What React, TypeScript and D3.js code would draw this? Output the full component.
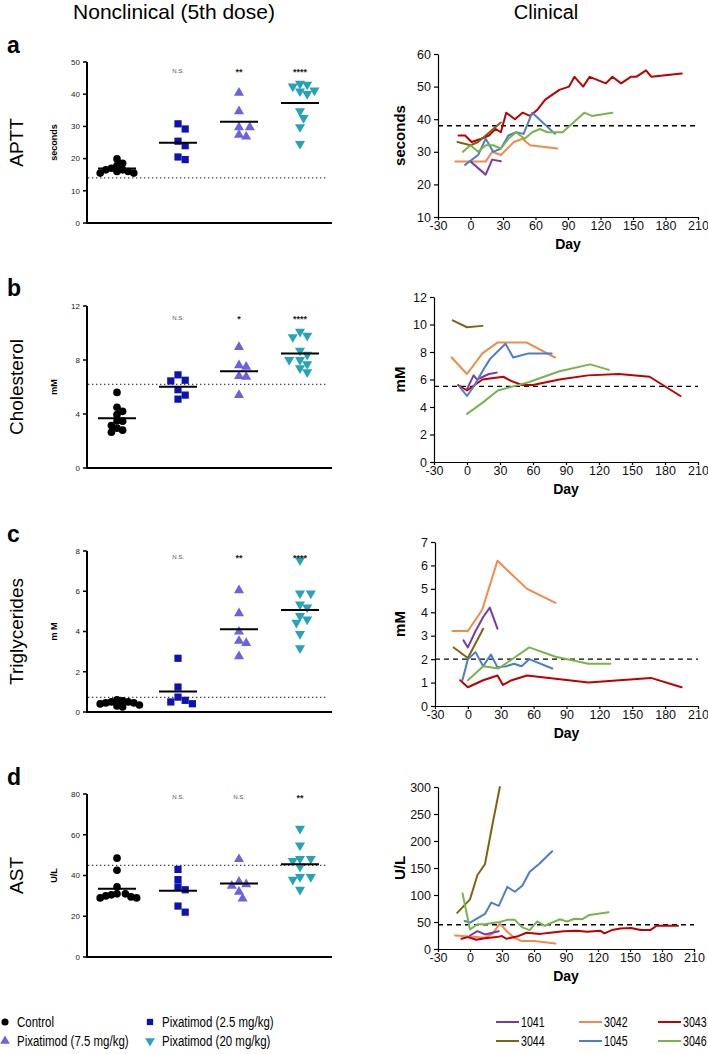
import React, { useEffect, useRef } from 'react';
import * as d3 from 'd3';

// ---------- nonclinical, 5th dose: one value per animal ----------
const groupNames = ['Control', 'Pixatimod (2.5 mg/kg)', 'Pixatimod (7.5 mg/kg)', 'Pixatimod (20 mg/kg)'];

const apttControl = [19.9, 18.5, 17.8, 17, 16.5, 16.5, 16, 16, 15.5, 15.5];
const aptt25 = [30.8, 29.2, 25.4, 24.0, 20.5, 19.7];
const aptt75 = [40.4, 34.7, 29.7, 29.7, 27.4, 26.8];
const aptt20 = [43.3, 43, 42.4, 41.2, 40.9, 40.1, 34.7, 32.6, 29.8, 24.6];

const cholControl = [5.6, 4.5, 4.2, 3.95, 3.5, 3.47, 3.15, 2.95, 2.8, 2.65];
const chol25 = [6.9, 6.5, 6.45, 5.8, 5.4, 5.1];
const chol75 = [8.95, 7.6, 7.5, 6.8, 6.75, 5.4];
const chol20 = [10.1, 9.8, 9.7, 8.7, 8.4, 8.0, 8.0, 7.7, 7.4, 7.1];

const tgControl = [0.6, 0.55, 0.5, 0.5, 0.45, 0.45, 0.4, 0.35, 0.3, 0.25];
const tg25 = [2.67, 1.24, 0.74, 0.58, 0.5, 0.41];
const tg75 = [6.05, 4.9, 3.99, 3.53, 3.42, 2.77];
const tg20 = [7.54, 5.89, 5.89, 5.35, 5.2, 4.77, 4.6, 4.44, 3.88, 3.17];

const astControl = [48.5, 42.6, 34.4, 31, 31, 30.5, 30, 29.5, 29, 29];
const ast25 = [43, 38, 34.4, 33, 25, 22];
const ast75 = [48, 36.9, 35.7, 34.9, 32, 28.7];
const ast20 = [63, 54.8, 48.2, 48.2, 47.2, 44.3, 39.3, 39.3, 38, 33];

// significance vs control, groups 2..4
const apttSig = ['N.S.', '**', '****'];
const cholSig = ['N.S.', '*', '****'];
const tgSig = ['N.S.', '**', '****'];
const astSig = ['N.S.', 'N.S.', '**'];

// upper limit of normal (dotted / dashed lines)
const nonclinRefs = [14, 6.2, 0.73, 45];
const clinRefs = [38, 5.5, 2, 45];

// ---------- clinical: [day, value] per patient ----------
const patientIds = ['1041', '3042', '3043', '3044', '1045', '3046'];
const dayTicks = [-30, 0, 30, 60, 90, 120, 150, 180, 210];

const aptt1041 = [[0, 27], [14, 23], [20, 27.6], [28, 27.1]];
const aptt3042 = [[-14, 27], [0, 27], [14, 27], [20, 30], [28, 29], [40, 33], [48, 34], [55, 32], [80, 31]];
const aptt3043 = [[-11, 35], [-5, 35], [1, 33], [10, 34], [17, 35], [23, 37], [28, 36], [33, 42], [41, 40], [48, 42], [55, 41], [62, 43], [69, 46], [82, 49], [91, 50], [96, 53], [104, 50], [110, 53], [125, 51], [131, 53], [139, 51], [148, 53], [153, 53], [162, 55], [167, 53], [195, 54]];
const aptt3044 = [[-12, 33], [0, 32], [7, 33], [14, 35], [21, 37], [28, 39]];
const aptt1045 = [[-5, 26], [7, 29], [14, 34], [21, 30], [28, 31], [35, 35], [42, 36], [49, 35.5], [57, 42], [78, 35.5]];
const aptt3046 = [[-7, 30], [0, 32], [7, 30], [14, 32], [21, 32], [28, 31], [35, 34], [42, 36], [50, 34], [57, 36], [64, 37], [71, 36], [85, 36], [105, 42], [112, 41], [131, 42]];

const chol1041 = [[0, 5.3], [6, 6.3], [9, 6.0], [20, 6.4], [27, 6.5]];
const chol3042 = [[-14, 7.6], [0, 6.4], [14, 7.9], [28, 8.7], [54, 8.7], [80, 7.6]];
const chol3043 = [[-8, 5.6], [0, 5.2], [7, 5.6], [14, 6.0], [33, 6.2], [40, 5.9], [50, 5.6], [60, 5.6], [84, 6.0], [110, 6.3], [138, 6.4], [166, 6.2], [194, 4.8]];
const chol3044 = [[-13, 10.3], [0, 9.8], [14, 9.9]];
const chol1045 = [[-7, 5.5], [0, 4.8], [7, 5.6], [14, 6.6], [21, 7.5], [35, 8.6], [42, 7.6], [56, 7.9], [77, 7.9]];
const chol3046 = [[0, 3.5], [14, 4.3], [28, 5.2], [42, 5.5], [56, 5.8], [84, 6.6], [112, 7.1], [129, 6.7]];

const tg1041 = [[-4, 2.8], [0, 2.5], [7, 3.2], [14, 3.8], [20, 4.2], [27, 3.3]];
const tg3042 = [[-14, 3.2], [0, 3.2], [13, 4.1], [27, 6.2], [54, 5.0], [80, 4.4]];
const tg3043 = [[-7, 1.1], [0, 0.8], [14, 1.1], [27, 1.3], [32, 0.9], [40, 1.1], [54, 1.3], [110, 1.0], [167, 1.2], [195, 0.8]];
const tg3044 = [[-13, 2.5], [0, 2.05], [14, 3.3]];
const tg1045 = [[-5, 1.1], [0, 2.0], [7, 2.3], [14, 1.7], [21, 2.2], [27, 1.65], [35, 1.7], [42, 1.8], [49, 1.7], [56, 2.0], [77, 1.6]];
const tg3046 = [[0, 1.1], [14, 1.7], [28, 1.6], [42, 2.05], [56, 2.5], [80, 2.1], [110, 1.8], [130, 1.8]];

const ast1041 = [[0, 25], [7, 33], [14, 27], [21, 30], [27, 33]];
const ast3042 = [[-14, 25], [0, 23], [14, 21], [21, 28], [28, 47], [35, 32], [42, 20], [48, 15], [60, 15], [80, 10]];
const ast3043 = [[-8, 19], [-2, 22], [6, 17], [14, 20], [25, 22], [30, 24], [34, 19], [44, 23], [53, 30], [66, 28], [75, 30], [88, 33], [100, 34], [110, 32], [122, 34], [126, 29], [133, 35], [141, 38], [151, 39], [160, 35], [169, 35], [175, 43], [195, 43]];
const ast3044 = [[-12, 67], [0, 92], [7, 137], [14, 157], [21, 230], [28, 300]];
const ast1045 = [[-5, 52], [0, 49], [14, 65], [20, 86], [27, 80], [35, 115], [42, 106], [49, 117], [56, 143], [65, 158], [77, 181]];
const ast3046 = [[-7, 103], [0, 36], [7, 46], [14, 46], [21, 48], [28, 50], [35, 54], [42, 54], [49, 40], [56, 35], [63, 51], [70, 43], [84, 55], [91, 51], [98, 56], [105, 55], [112, 63], [130, 68]];

// ---------- styles / layout ----------
const FONT = '"Liberation Sans", Arial, Helvetica, sans-serif';
const groupColors = ['#000000', '#0c12b4', '#6a62e2', '#27a2bb'];
const patientColors = ['#7b3aa6', '#f48a4a', '#c00000', '#7f6410', '#4a7ec8', '#79b44a'];
const drawOrder = [1, 2, 0, 3, 4, 5];

const leftPanels = [
  { letter: 'a', row: 'APTT', unit: 'seconds', groups: [apttControl, aptt25, aptt75, aptt20], ticks: [0, 10, 20, 30, 40, 50], sig: apttSig, top: 62, bottom: 223, sigY: 73, letterY: 53 },
  { letter: 'b', row: 'Cholesterol', unit: 'mM', groups: [cholControl, chol25, chol75, chol20], ticks: [0, 4, 8, 12], sig: cholSig, top: 306, bottom: 468, sigY: 320, letterY: 296 },
  { letter: 'c', row: 'Triglycerides', unit: 'm M', groups: [tgControl, tg25, tg75, tg20], ticks: [0, 2, 4, 6, 8], sig: tgSig, top: 551, bottom: 712, sigY: 559, letterY: 542 },
  { letter: 'd', row: 'AST', unit: 'U/L', groups: [astControl, ast25, ast75, ast20], ticks: [0, 20, 40, 60, 80], sig: astSig, top: 794, bottom: 957, sigY: 799, letterY: 785 },
];

const rightPanels = [
  { unit: 'seconds', series: [aptt1041, aptt3042, aptt3043, aptt3044, aptt1045, aptt3046], ticks: [10, 20, 30, 40, 50, 60], left: 438, right: 698, top: 54, bottom: 217 },
  { unit: 'mM', series: [chol1041, chol3042, chol3043, chol3044, chol1045, chol3046], ticks: [0, 2, 4, 6, 8, 10, 12], left: 434, right: 698, top: 297, bottom: 462 },
  { unit: 'mM', series: [tg1041, tg3042, tg3043, tg3044, tg1045, tg3046], ticks: [0, 1, 2, 3, 4, 5, 6, 7], left: 435, right: 698, top: 542, bottom: 706 },
  { unit: 'U/L', series: [ast1041, ast3042, ast3043, ast3044, ast1045, ast3046], ticks: [0, 50, 100, 150, 200, 250, 300], left: 438, right: 694, top: 787, bottom: 949 },
];

const symbolPath = (i: number, size: number) => {
  const types = [d3.symbolCircle, d3.symbolSquare, d3.symbolTriangle, d3.symbolTriangle];
  return d3.symbol().type(types[i]).size(size)() as string;
};
const symbolTransform = (i: number, x: number, y: number) =>
  i === 3 ? `translate(${x},${y}) rotate(180)` : `translate(${x},${y})`;

// simple beeswarm: points nudge sideways until they no longer overlap
function swarm(values: number[], y: (v: number) => number, cx: number, d: number) {
  const pts: { x: number; y: number }[] = [];
  [...values].sort((a, b) => b - a).forEach(v => {
    const py = y(v);
    for (let k = 0; k < 40; k++) {
      const offs = k === 0 ? [0] : [k * d / 2, -k * d / 2];
      const o = offs.find(o => pts.every(p => Math.hypot(p.x - (cx + o), p.y - py) >= d));
      if (o !== undefined) { pts.push({ x: cx + o, y: py }); return; }
    }
  });
  return pts;
}

const App: React.FC = () => {
  const svgRef = useRef<SVGSVGElement>(null);

  useEffect(() => {
    if (!svgRef.current) return;
    const svg = d3.select(svgRef.current);
    svg.selectAll('*').remove();
    svg.append('rect').attr('width', 708).attr('height', 1054).attr('fill', '#fff');

    // column titles
    svg.append('text').attr('x', 174).attr('y', 19).attr('text-anchor', 'middle')
      .style('font-size', '21px').style('font-family', FONT).text('Nonclinical (5th dose)');
    svg.append('text').attr('x', 546).attr('y', 19).attr('text-anchor', 'middle')
      .style('font-size', '20px').style('font-family', FONT).text('Clinical');

    const xGroup = d3.scalePoint<string>().domain(groupNames).range([117, 300]);

    leftPanels.forEach((p, pi) => {
      const g = svg.append('g');
      const max = p.ticks[p.ticks.length - 1];
      const y = d3.scaleLinear().domain([0, max]).range([p.bottom, p.top]);

      g.append('text').attr('x', 7).attr('y', p.letterY)
        .style('font-size', '23px').style('font-weight', 'bold').style('font-family', FONT).text(p.letter);
      g.append('text').attr('transform', `translate(23,${(p.top + p.bottom) / 2}) rotate(-90)`)
        .attr('text-anchor', 'middle').style('font-size', '19px').style('font-family', FONT).text(p.row);
      g.append('text').attr('transform', `translate(57,${(p.top + p.bottom) / 2}) rotate(-90)`)
        .attr('text-anchor', 'middle').style('font-size', '9px').style('font-weight', 'bold').style('font-family', FONT).text(p.unit);

      // axes
      g.append('line').attr('x1', 87).attr('x2', 87).attr('y1', p.bottom + 1).attr('y2', p.top)
        .attr('stroke', '#000').attr('stroke-width', 2);
      g.append('line').attr('x1', 86).attr('x2', 332).attr('y1', p.bottom).attr('y2', p.bottom)
        .attr('stroke', '#000').attr('stroke-width', 2);
      p.ticks.forEach(t => {
        g.append('line').attr('x1', 83).attr('x2', 87).attr('y1', y(t)).attr('y2', y(t))
          .attr('stroke', '#000').attr('stroke-width', 1.5);
        g.append('text').attr('x', 80).attr('y', y(t)).attr('dy', '0.35em').attr('text-anchor', 'end')
          .style('font-size', '8px').style('font-family', FONT).attr('fill', '#222').text(t);
      });

      // dotted reference line
      g.append('line').attr('x1', 88).attr('x2', 328)
        .attr('y1', y(nonclinRefs[pi])).attr('y2', y(nonclinRefs[pi]))
        .attr('stroke', '#444').attr('stroke-width', 1.2).attr('stroke-dasharray', '1.4,2.6');

      p.groups.forEach((vals, gi) => {
        const cx = xGroup(groupNames[gi])!;
        const pts = swarm(vals, y, cx, gi === 0 ? 5.6 : 7.2);
        g.selectAll(null).data(pts).enter().append('path')
          .attr('d', symbolPath(gi, gi === 1 ? 52 : gi === 0 ? 46 : 44))
          .attr('transform', d => symbolTransform(gi, d.x, d.y))
          .attr('fill', groupColors[gi]);
        const m = d3.mean(vals)!;
        g.append('line').attr('x1', cx - 19).attr('x2', cx + 19).attr('y1', y(m)).attr('y2', y(m))
          .attr('stroke', '#000').attr('stroke-width', 2);
        if (gi > 0) {
          const s = p.sig[gi - 1];
          const ns = s === 'N.S.';
          g.append('text').attr('x', cx).attr('y', p.sigY + (ns ? 0 : 2)).attr('text-anchor', 'middle')
            .style('font-size', ns ? '6px' : '9px').style('font-weight', ns ? 'normal' : 'bold')
            .style('font-family', FONT).attr('fill', ns ? '#555' : '#222').text(s);
        }
      });
    });

    rightPanels.forEach((p, pi) => {
      const g = svg.append('g');
      const x = d3.scaleLinear().domain([-30, 210]).range([p.left, p.right]);
      const y = d3.scaleLinear().domain([p.ticks[0], p.ticks[p.ticks.length - 1]]).range([p.bottom, p.top]);

      const xa = g.append('g').attr('transform', `translate(0,${p.bottom})`)
        .call(d3.axisBottom(x).tickValues(dayTicks).tickSize(3).tickSizeOuter(0).tickPadding(1)
          .tickFormat(d => String(d)));
      const ya = g.append('g').attr('transform', `translate(${p.left},0)`)
        .call(d3.axisLeft(y).tickValues(p.ticks).tickSize(4).tickSizeOuter(0).tickPadding(3)
          .tickFormat(d => String(d)));
      [xa, ya].forEach(a => {
        a.selectAll('text').style('font-size', '12.5px').style('font-family', FONT).attr('fill', '#111');
        a.selectAll('line,path').attr('stroke', '#000').attr('stroke-width', 1.2);
      });

      g.append('text').attr('x', (p.left + p.right) / 2).attr('y', p.bottom + 32).attr('text-anchor', 'middle')
        .style('font-size', '14px').style('font-weight', 'bold').style('font-family', FONT).text('Day');
      g.append('text').attr('transform', `translate(405,${(p.top + p.bottom) / 2}) rotate(-90)`)
        .attr('text-anchor', 'middle').style('font-size', '15px').style('font-weight', 'bold')
        .style('font-family', FONT).text(p.unit);

      g.append('line').attr('x1', p.left).attr('x2', p.right)
        .attr('y1', y(clinRefs[pi])).attr('y2', y(clinRefs[pi]))
        .attr('stroke', '#000').attr('stroke-width', 1.4).attr('stroke-dasharray', '5,4');

      const line = d3.line<number[]>().x(d => x(d[0])).y(d => y(d[1]));
      drawOrder.forEach(si => {
        g.append('path').attr('d', line(p.series[si] as number[][])!)
          .attr('fill', 'none').attr('stroke', patientColors[si]).attr('stroke-width', 2)
          .attr('stroke-linejoin', 'round').attr('stroke-linecap', 'round');
      });
    });

    // legends (text squeezed horizontally like a condensed face)
    const lg = svg.append('g').style('font-family', FONT).style('font-size', '14px');
    const legendPos = [[5, 1022], [150, 1022], [5, 1041], [150, 1041]];
    groupNames.forEach((name, gi) => {
      const [lx, ly] = legendPos[gi];
      lg.append('path').attr('d', symbolPath(gi, 40)).attr('transform', symbolTransform(gi, lx, ly))
        .attr('fill', groupColors[gi]);
      lg.append('text').attr('transform', `translate(${lx + 12},${ly}) scale(0.82,1)`)
        .attr('dy', '0.35em').text(name);
    });
    const lineLegendX = [496, 579, 658];
    patientIds.forEach((id, i) => {
      const lx = lineLegendX[i % 3];
      const ly = i < 3 ? 1022 : 1041;
      lg.append('line').attr('x1', lx).attr('x2', lx + 23).attr('y1', ly).attr('y2', ly)
        .attr('stroke', patientColors[i]).attr('stroke-width', 2);
      lg.append('text').attr('transform', `translate(${lx + 25},${ly}) scale(0.76,1)`)
        .attr('dy', '0.35em').text(id);
    });
  }, []);

  return (
    <div style={{ position: 'absolute', left: 0, top: 0, width: 708, height: 1054, background: '#fff' }}>
      <svg ref={svgRef} width={708} height={1054} />
    </div>
  );
};

export default App;
